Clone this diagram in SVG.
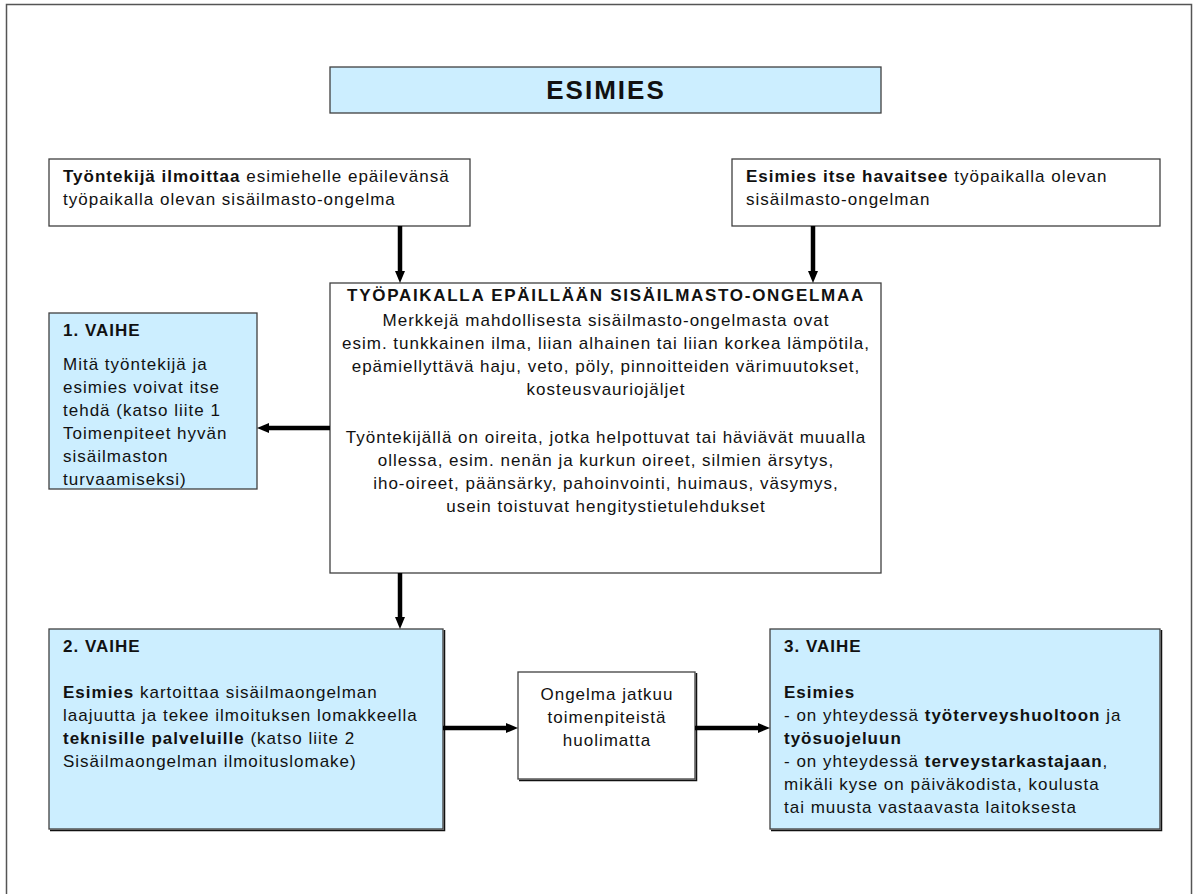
<svg xmlns="http://www.w3.org/2000/svg" width="1198" height="894" viewBox="0 0 1198 894">
<style>
  text { font-family: "Liberation Sans", Arial, sans-serif; font-size: 17px; letter-spacing: 1px; fill: #111; }
  .b { font-weight: bold; }
  .c { text-anchor: middle; }
  .box { fill: #ffffff; stroke: #404040; stroke-width: 1.3; }
  .blue { fill: #cceeff; stroke: #404040; stroke-width: 1.3; }
  .shadow { fill: none; stroke: #111; stroke-width: 1.5; }
  .arr { fill: none; stroke: #000; stroke-width: 4.5; marker-end: url(#head); }
</style>
<defs>
  <marker id="head" markerUnits="userSpaceOnUse" markerWidth="14" markerHeight="12" refX="0" refY="5" orient="auto" viewBox="0 0 14 10">
    <path d="M0,0 L12,5 L0,10 z" fill="#000"/>
  </marker>
</defs>
<rect x="0" y="0" width="1198" height="894" fill="#fff"/>
<rect id="frame" x="6.5" y="4.5" width="1185" height="900" fill="none" stroke="#555" stroke-width="1.5"/>

<g id="esimies">
  <rect class="blue" x="330" y="67" width="551" height="46"/>
  <text class="b c" x="606" y="99" style="font-size:26px;letter-spacing:2px">ESIMIES</text>
</g>

<g id="tyontekija">
  <rect class="box" x="49" y="159" width="421" height="67"/>
  <text x="63" y="182"><tspan class="b">Työntekijä ilmoittaa</tspan> esimiehelle epäilevänsä</text>
  <text x="63" y="205">työpaikalla olevan sisäilmasto-ongelma</text>
</g>

<g id="esimies-itse">
  <rect class="box" x="732" y="159" width="428" height="67"/>
  <text x="746" y="182"><tspan class="b">Esimies itse havaitsee</tspan> työpaikalla olevan</text>
  <text x="746" y="205">sisäilmasto-ongelman</text>
</g>

<g id="epaillaan">
  <rect class="box" x="330" y="283" width="551" height="290"/>
  <text class="b c" x="606" y="301" style="letter-spacing:1.7px">TYÖPAIKALLA EPÄILLÄÄN SISÄILMASTO-ONGELMAA</text>
  <text class="c" x="606" y="326">Merkkejä mahdollisesta sisäilmasto-ongelmasta ovat</text>
  <text class="c" x="606" y="349">esim. tunkkainen ilma, liian alhainen tai liian korkea lämpötila,</text>
  <text class="c" x="606" y="372">epämiellyttävä haju, veto, pöly, pinnoitteiden värimuutokset,</text>
  <text class="c" x="606" y="395">kosteusvauriojäljet</text>
  <text class="c" x="606" y="443">Työntekijällä on oireita, jotka helpottuvat tai häviävät muualla</text>
  <text class="c" x="606" y="466">ollessa, esim. nenän ja kurkun oireet, silmien ärsytys,</text>
  <text class="c" x="606" y="489">iho-oireet, päänsärky, pahoinvointi, huimaus, väsymys,</text>
  <text class="c" x="606" y="512">usein toistuvat hengitystietulehdukset</text>
</g>

<g id="vaihe1">
  <rect class="blue" x="49" y="313" width="208" height="176"/>
  <text class="b" x="63" y="336">1. VAIHE</text>
  <text x="63" y="370">Mitä työntekijä ja</text>
  <text x="63" y="393">esimies voivat itse</text>
  <text x="63" y="416">tehdä (katso liite 1</text>
  <text x="63" y="439">Toimenpiteet hyvän</text>
  <text x="63" y="462">sisäilmaston</text>
  <text x="63" y="485">turvaamiseksi)</text>
</g>

<g id="vaihe2">
  <rect class="blue" x="49" y="629" width="394" height="200"/>
  <path class="shadow" d="M50,830.5 H444.5 V630"/>
  <text class="b" x="63" y="652">2. VAIHE</text>
  <text x="63" y="698"><tspan class="b">Esimies</tspan> kartoittaa sisäilmaongelman</text>
  <text x="63" y="721">laajuutta ja tekee ilmoituksen lomakkeella</text>
  <text x="63" y="744"><tspan class="b">teknisille palveluille</tspan> (katso liite 2</text>
  <text x="63" y="767">Sisäilmaongelman ilmoituslomake)</text>
</g>

<g id="ongelma">
  <rect class="box" x="518" y="672" width="177" height="107"/>
  <path class="shadow" d="M519,780.5 H696.5 V673"/>
  <text class="c" x="607" y="700">Ongelma jatkuu</text>
  <text class="c" x="607" y="723">toimenpiteistä</text>
  <text class="c" x="607" y="746">huolimatta</text>
</g>

<g id="vaihe3">
  <rect class="blue" x="770" y="629" width="390" height="200"/>
  <path class="shadow" d="M771,830.5 H1161.5 V630"/>
  <text class="b" x="784" y="652">3. VAIHE</text>
  <text class="b" x="784" y="698">Esimies</text>
  <text x="784" y="721">- on yhteydessä <tspan class="b">työterveyshuoltoon</tspan> ja</text>
  <text class="b" x="784" y="744">työsuojeluun</text>
  <text x="784" y="767">- on yhteydessä <tspan class="b">terveystarkastajaan</tspan>,</text>
  <text x="784" y="790">mikäli kyse on päiväkodista, koulusta</text>
  <text x="784" y="813">tai muusta vastaavasta laitoksesta</text>
</g>

<g id="connectors">
  <path class="arr" d="M400,226 V271"/>
  <path class="arr" d="M813,226 V271"/>
  <path class="arr" d="M330,428 H269"/>
  <path class="arr" d="M400,573 V617"/>
  <path class="arr" d="M443,728 H506"/>
  <path class="arr" d="M695,728 H758"/>
</g>
</svg>
